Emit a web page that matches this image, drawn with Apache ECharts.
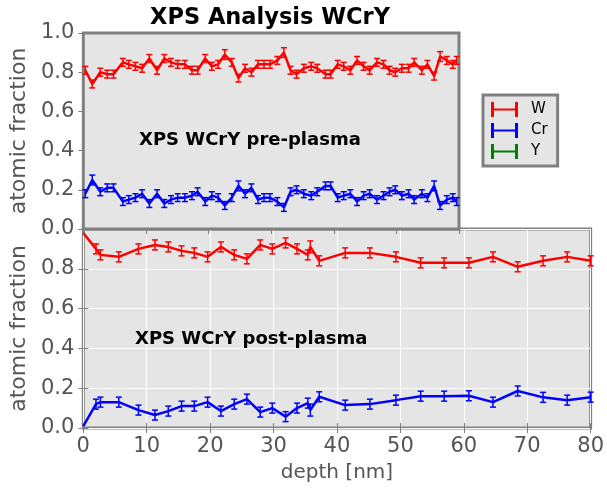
<!DOCTYPE html>
<html>
<head>
<meta charset="utf-8">
<script src="https://cdn.jsdelivr.net/npm/echarts@6/dist/echarts.min.js"></script>
<style>html,body{margin:0;padding:0;background:#fff}#c{width:607px;height:491px}</style>
</head>
<body>
<div id="c"></div>
<script>
// ---- data ----
const preDepth = [0.32,1.43,2.71,3.82,4.82,6.32,7.27,8.32,9.39,10.55,11.78,12.94,14.01,15.07,16.23,17.35,18.26,19.47,20.53,21.53,22.6,23.71,24.78,25.83,26.85,27.9,28.86,29.81,30.99,
  32.04,33.1,34.06,35.22,36.4,37.36,38.68,39.49,40.63,41.59,42.65,43.72,44.77,45.73,46.9,47.95,48.91,49.82,50.88,51.94,52.84,54.07,54.96,56.03,56.98,58.05,59.0,59.64];
const preW = [0.81,0.74,0.80,0.79,0.79,0.85,0.84,0.83,0.82,0.87,0.81,0.87,0.85,0.84,0.84,0.81,0.81,0.87,0.83,0.84,0.89,0.85,0.77,0.82,0.80,0.84,0.84,0.84,0.86,
  0.90,0.81,0.79,0.82,0.83,0.82,0.79,0.79,0.84,0.83,0.81,0.86,0.83,0.81,0.85,0.84,0.81,0.80,0.82,0.82,0.85,0.81,0.84,0.78,0.88,0.86,0.84,0.86];
const preWErr = [0.02,0.02,0.02,0.02,0.02,0.02,0.02,0.02,0.02,0.02,0.02,0.02,0.02,0.02,0.02,0.02,0.02,0.02,0.02,0.02,0.025,0.02,0.02,0.02,0.02,0.02,0.02,0.02,0.02,
  0.025,0.02,0.02,0.02,0.02,0.02,0.02,0.02,0.02,0.02,0.02,0.02,0.02,0.02,0.02,0.02,0.02,0.02,0.02,0.02,0.02,0.02,0.02,0.02,0.025,0.02,0.02,0.02];
const preCr = [0.18,0.25,0.19,0.21,0.21,0.14,0.15,0.16,0.18,0.13,0.18,0.13,0.15,0.16,0.16,0.17,0.19,0.14,0.17,0.16,0.12,0.16,0.22,0.18,0.21,0.15,0.16,0.16,0.14,
  0.11,0.19,0.20,0.18,0.17,0.19,0.22,0.22,0.16,0.17,0.18,0.14,0.17,0.18,0.15,0.17,0.19,0.20,0.17,0.18,0.15,0.18,0.16,0.22,0.12,0.15,0.16,0.14];
const preCrErr = [0.02,0.025,0.02,0.02,0.02,0.02,0.02,0.02,0.02,0.02,0.02,0.02,0.02,0.02,0.02,0.02,0.02,0.02,0.02,0.02,0.02,0.02,0.025,0.02,0.02,0.02,0.02,0.02,0.02,
  0.02,0.02,0.02,0.02,0.02,0.02,0.02,0.02,0.02,0.02,0.02,0.02,0.02,0.02,0.02,0.02,0.02,0.02,0.02,0.02,0.02,0.02,0.02,0.025,0.02,0.02,0.02,0.02];

const postDepth = [0,2.0,2.7,5.6,8.7,11.3,13.4,15.5,17.5,19.6,21.7,23.8,25.8,27.9,29.8,31.9,33.7,35.4,35.8,37.2,41.3,45.2,49.3,53.2,56.9,60.8,64.6,68.5,72.5,76.3,80.0];
const postW = [0.98,0.90,0.87,0.86,0.90,0.92,0.91,0.89,0.88,0.86,0.91,0.87,0.85,0.92,0.90,0.93,0.90,0.87,0.91,0.84,0.88,0.88,0.86,0.83,0.83,0.83,0.86,0.81,0.84,0.86,0.84];
const postWErr = [0,0.025,0.025,0.025,0.025,0.025,0.025,0.025,0.025,0.025,0.025,0.025,0.025,0.025,0.025,0.025,0.025,0.025,0.03,0.025,0.025,0.025,0.025,0.025,0.025,0.025,0.025,0.025,0.025,0.025,0.025];
const postCr = [0.01,0.12,0.13,0.13,0.09,0.065,0.085,0.11,0.11,0.13,0.085,0.12,0.145,0.08,0.10,0.057,0.10,0.125,0.09,0.157,0.115,0.12,0.14,0.16,0.16,0.162,0.13,0.186,0.154,0.14,0.155];
const postCrErr = [0,0.025,0.025,0.025,0.025,0.025,0.025,0.025,0.025,0.025,0.025,0.025,0.025,0.025,0.025,0.025,0.025,0.025,0.03,0.025,0.025,0.025,0.025,0.025,0.025,0.025,0.025,0.025,0.025,0.025,0.025];

const yTicks = ['0.0','0.2','0.4','0.6','0.8','1.0'];
const xTicksPost = ['0','10','20','30','40','50','60','70','80'];

const titleText = 'XPS Analysis WCrY';
const preLabel = 'XPS WCrY pre-plasma';
const postLabel = 'XPS WCrY post-plasma';
const yName = 'atomic fraction';
const xName = 'depth [nm]';

// ---- styles ----
const FONT = 'DejaVu Sans';
const RED = '#ff0000', BLUE = '#0000ff', GREEN = '#008000';
const GRAY = '#808080', TXT = '#555555';

function pairs(xs, ys) { return xs.map((x, i) => [x, ys[i]]); }
function triples(xs, ys, es) { return xs.map((x, i) => [x, ys[i], es[i]]); }

function errSeries(name, gi, data, color) {
  return {
    name: name, type: 'custom', xAxisIndex: gi * 2, yAxisIndex: gi * 2, data: data, z: 3,
    clip: false,
    renderItem: function (params, api) {
      const x = api.value(0), y = api.value(1), e = api.value(2);
      if (!e) return null;
      const t = api.coord([x, y + e]), b = api.coord([x, y - e]);
      const cw = 3;
      const st = { stroke: color, lineWidth: 1.5 };
      return { type: 'group', children: [
        { type: 'line', shape: { x1: t[0], y1: t[1], x2: b[0], y2: b[1] }, style: st },
        { type: 'line', shape: { x1: t[0] - cw, y1: t[1], x2: t[0] + cw, y2: t[1] }, style: st },
        { type: 'line', shape: { x1: b[0] - cw, y1: b[1], x2: b[0] + cw, y2: b[1] }, style: st }
      ]};
    }
  };
}
function lineSeries(name, gi, data, color) {
  return { name: name, type: 'line', xAxisIndex: gi * 2, yAxisIndex: gi * 2, data: data, color: color,
    showSymbol: false, symbol: 'none', lineStyle: { color: color, width: 2.5 }, z: 4, animation: false };
}

const axisLbl = { color: TXT, fontSize: 21, fontFamily: FONT };
const tick = { show: true, inside: false, length: 5, lineStyle: { color: GRAY, width: 1 } };

function yAxisMain(gi, showTop) {
  return { type: 'value', gridIndex: gi, min: 0, max: 1, interval: 0.2,
    axisLine: { show: false }, axisTick: tick,
    axisLabel: Object.assign({}, axisLbl, { margin: 9, formatter: function (v) {
      const s = yTicks[Math.round(v / 0.2)];
      if (!showTop && s === '1.0') return '';
      return s;
    }}),
    splitLine: { show: true, lineStyle: { color: '#ffffff', width: 1 } },
    name: yName, nameLocation: 'middle', nameGap: 46, nameRotate: 90,
    nameTextStyle: { color: TXT, fontSize: 22, fontFamily: FONT }
  };
}
function yAxisRight(gi) {
  return { type: 'value', gridIndex: gi, position: 'right', min: 0, max: 1, interval: 0.2,
    axisLine: { show: false }, axisTick: tick, axisLabel: { show: false }, splitLine: { show: false } };
}

const option = {
  animation: false,
  backgroundColor: '#ffffff',
  textStyle: { fontFamily: FONT },
  grid: [
    { left: 82, top: 33, width: 377, height: 196, show: true, backgroundColor: '#e5e5e5', borderColor: GRAY, borderWidth: 3, z: 1 },
    { left: 82, top: 229, width: 515, height: 199, show: true, backgroundColor: '#e5e5e5', borderColor: GRAY, borderWidth: 3, z: 0 }
  ],
  xAxis: [
    { type: 'value', gridIndex: 0, min: 0, max: 60, interval: 10, axisLine: { show: false },
      axisTick: tick, axisLabel: { show: false }, splitLine: { show: true, lineStyle: { color: '#ffffff', width: 1 } } },
    { type: 'value', gridIndex: 0, position: 'top', min: 0, max: 60, interval: 10, axisLine: { show: false },
      axisTick: tick, axisLabel: { show: false }, splitLine: { show: false } },
    { type: 'value', gridIndex: 1, min: 0, max: 80, interval: 10, axisLine: { show: false },
      axisTick: tick,
      axisLabel: Object.assign({}, axisLbl, { margin: 8, formatter: function (v) { return xTicksPost[Math.round(v / 10)]; } }),
      splitLine: { show: true, lineStyle: { color: '#ffffff', width: 1 } },
      name: xName, nameLocation: 'middle', nameGap: 35,
      nameTextStyle: { color: TXT, fontSize: 20, fontFamily: FONT } },
    { type: 'value', gridIndex: 1, position: 'top', min: 0, max: 80, interval: 10, axisLine: { show: false },
      axisTick: tick, axisLabel: { show: false }, splitLine: { show: false } }
  ],
  yAxis: [
    yAxisMain(0, true), yAxisRight(0),
    yAxisMain(1, false), yAxisRight(1)
  ],
  legend: {
    orient: 'vertical', left: 483, top: 95, padding: [7, 10, 7, 8],
    itemWidth: 27, itemHeight: 15, itemGap: 6,
    backgroundColor: '#e5e5e5', borderColor: GRAY, borderWidth: 3, borderRadius: 0,
    selectedMode: false,
    textStyle: { fontSize: 15, color: '#000000', fontFamily: FONT, padding: [0, 0, 0, 8] },
    data: ['W', 'Cr', 'Y'].map(n => ({ name: n, icon: 'path://M0,0h3v15h-3z M3,6.5h21v2h-21z M24,0h3v15h-3z' }))
  },
  graphic: [
    { type: 'text', x: 270, y: 18, z: 10, style: { text: titleText, fill: '#000', font: 'bold 22.5px "DejaVu Sans"', textAlign: 'center', textVerticalAlign: 'middle' } },
    { type: 'text', x: 139, y: 131, z: 10, style: { text: preLabel, fill: '#000', font: 'bold 18px "DejaVu Sans"' } },
    { type: 'text', x: 135, y: 330, z: 10, style: { text: postLabel, fill: '#000', font: 'bold 18px "DejaVu Sans"' } }
  ],
  series: [
    lineSeries('W', 0, pairs(preDepth, preW), RED),
    errSeries('W', 0, triples(preDepth, preW, preWErr), RED),
    lineSeries('Cr', 0, pairs(preDepth, preCr), BLUE),
    errSeries('Cr', 0, triples(preDepth, preCr, preCrErr), BLUE),
    lineSeries('Y', 0, [], GREEN),
    lineSeries('W', 1, pairs(postDepth, postW), RED),
    errSeries('W', 1, triples(postDepth, postW, postWErr), RED),
    lineSeries('Cr', 1, pairs(postDepth, postCr), BLUE),
    errSeries('Cr', 1, triples(postDepth, postCr, postCrErr), BLUE)
  ]
};
const chart = echarts.init(document.getElementById('c'), null, { renderer: 'canvas' });
chart.setOption(option);
</script>
</body>
</html>
